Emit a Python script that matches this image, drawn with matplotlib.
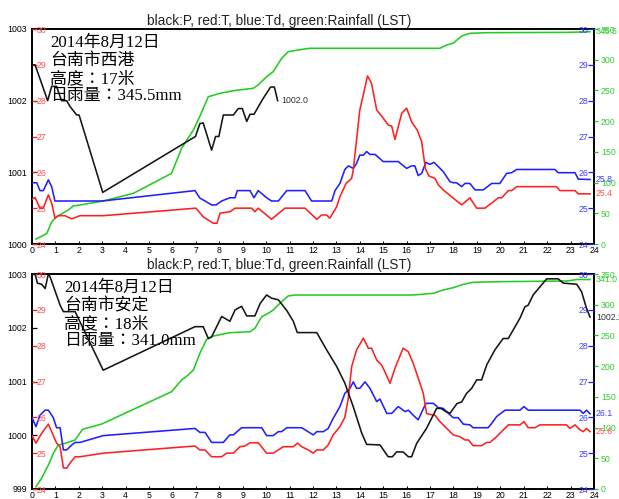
import matplotlib
matplotlib.use("Agg")
import matplotlib.pyplot as plt

plt.rcParams["font.family"] = ["Liberation Sans", "DejaVu Sans"]

# ---------------- 台南市西港 ----------------
h_p1 = [0.0, 0.13, 0.40, 0.67, 0.84, 1.05, 1.26, 1.48, 1.62, 1.91, 2.01, 3.02,
        6.98, 7.17, 7.31, 7.67, 7.84, 7.98, 8.17, 8.60, 8.81, 8.98, 9.17, 9.31,
        9.48, 9.85, 10.19, 10.35, 10.49]
p1 = [1002.50, 1002.50, 1002.25, 1002.00, 1002.20, 1002.20, 1002.00, 1002.00,
      1001.92, 1001.80, 1001.80, 1000.72, 1001.50, 1001.68, 1001.69, 1001.31,
      1001.50, 1001.50, 1001.80, 1001.80, 1001.89, 1001.89, 1001.71, 1001.81,
      1001.81, 1002.02, 1002.19, 1002.19, 1002.00]

h_t1 = [0.0, 0.13, 0.34, 0.48, 0.70, 0.84, 0.98, 1.12, 1.41, 1.70, 2.05, 3.04,
        7.00, 7.31, 7.74, 7.90, 8.03, 8.45, 8.67, 9.38, 9.52, 9.66, 10.23, 10.80,
        11.66, 12.16, 12.37, 12.58, 12.72, 13.01, 13.15, 13.41, 13.65, 13.72,
        14.00, 14.33, 14.50, 14.72, 15.00, 15.21, 15.36, 15.50, 15.79, 16.00,
        16.21, 16.45, 16.64, 16.80, 16.95, 17.21, 17.35, 17.56, 17.99, 18.35,
        18.70, 18.99, 19.34, 19.63, 19.91, 20.06, 20.34, 20.48, 20.70, 22.40,
        22.54, 23.19, 23.33, 23.83]
t1 = [25.25, 25.30, 25.00, 25.00, 25.37, 25.14, 24.72, 24.79, 24.79, 24.70,
      24.79, 24.79, 25.00, 24.76, 24.58, 24.58, 24.86, 24.90, 25.00, 25.00,
      24.90, 25.00, 24.69, 25.00, 25.00, 24.69, 24.81, 24.81, 24.72, 25.04,
      25.32, 25.69, 25.83, 26.07, 27.74, 28.69, 28.48, 27.74, 27.51, 27.32,
      27.29, 26.92, 27.65, 27.79, 27.41, 27.18, 26.86, 26.10, 25.90, 25.83,
      25.65, 25.51, 25.28, 25.09, 25.29, 25.00, 25.00, 25.14, 25.29, 25.29,
      25.49, 25.49, 25.60, 25.60, 25.49, 25.49, 25.40, 25.40]

h_td1 = [0.0, 0.20, 0.34, 0.48, 0.70, 0.84, 0.98, 3.00, 6.96, 7.17, 7.39, 7.67,
         7.86, 8.10, 8.45, 8.67, 8.77, 9.31, 9.48, 9.66, 10.02, 10.23, 10.52,
         10.88, 11.66, 11.94, 12.80, 12.94, 13.15, 13.36, 13.51, 13.72, 13.86,
         14.00, 14.15, 14.29, 14.43, 14.65, 15.00, 15.64, 16.00, 16.21, 16.35,
         16.49, 16.64, 16.82, 16.99, 17.16, 17.35, 17.56, 17.85, 17.99, 18.13,
         18.35, 18.49, 18.70, 18.92, 19.27, 19.63, 19.98, 20.27, 20.48, 20.70,
         22.33, 22.47, 23.19, 23.33, 23.83]
td1 = [25.71, 25.71, 25.49, 25.49, 25.79, 25.60, 25.20, 25.20, 25.49, 25.28,
       25.20, 25.09, 25.09, 25.20, 25.29, 25.29, 25.49, 25.49, 25.29, 25.49,
       25.29, 25.20, 25.20, 25.49, 25.49, 25.20, 25.20, 25.49, 25.69, 26.08,
       26.18, 26.11, 26.25, 26.48, 26.48, 26.58, 26.50, 26.50, 26.30, 26.30,
       26.11, 26.18, 26.18, 25.91, 25.97, 26.28, 26.22, 26.28, 26.16, 26.02,
       25.74, 25.71, 25.71, 25.60, 25.69, 25.69, 25.51, 25.51, 25.69, 25.69,
       25.97, 25.99, 26.08, 26.08, 25.99, 25.99, 25.81, 25.80]

h_r1 = [0.17, 0.63, 0.84, 1.05, 1.55, 1.76, 2.05, 3.04, 4.33, 5.96, 6.39, 6.89,
        7.17, 7.53, 8.03, 8.60, 9.45, 9.66, 10.02, 10.30, 10.66, 10.94, 11.44,
        11.87, 17.42, 17.71, 17.99, 18.35, 18.70, 19.42, 22.83, 23.83]
r1 = [8.0, 17.0, 36.0, 44.5, 55.4, 61.9, 63.5, 70.0, 82.5, 115.0, 155.8, 185.6,
      208.0, 239.8, 245.3, 249.6, 253.5, 258.9, 272.4, 280.5, 302.3, 313.1,
      316.3, 318.6, 318.6, 324.0, 326.8, 338.6, 343.0, 344.0, 344.5, 345.5]

# ---------------- 台南市安定 ----------------
h_p2 = [0.0, 0.13, 0.23, 0.41, 0.56, 0.70, 0.77, 1.20, 1.34, 1.84, 2.05, 3.04,
        6.96, 7.31, 7.53, 7.67, 8.10, 8.45, 8.67, 8.95, 9.17, 9.52, 9.74, 10.02,
        10.23, 10.52, 10.88, 11.16, 11.33, 12.16, 12.58, 13.01, 13.36, 13.72,
        14.08, 14.29, 14.86, 15.21, 15.39, 15.57, 15.85, 16.07, 16.21, 16.43,
        16.85, 17.28, 17.46, 17.68, 17.85, 18.15, 18.35, 18.56, 18.77, 18.99,
        19.20, 19.42, 19.77, 20.12, 20.34, 20.84, 21.05, 21.19, 21.40, 21.69,
        21.98, 22.47, 22.69, 23.26, 23.47, 23.68, 23.83]
p2 = [1003.00, 1003.00, 1002.83, 1002.81, 1002.73, 1003.00, 1002.95, 1002.42,
      1002.30, 1002.30, 1002.11, 1001.21, 1002.02, 1002.02, 1001.80, 1001.83,
      1002.21, 1002.12, 1002.33, 1002.40, 1002.22, 1002.22, 1002.45, 1002.61,
      1002.55, 1002.52, 1002.32, 1002.12, 1001.91, 1001.91, 1001.59, 1001.28,
      1000.97, 1000.53, 1000.04, 999.83, 999.82, 999.60, 999.60, 999.69,
      999.69, 999.60, 999.60, 999.85, 1000.13, 1000.50, 1000.50, 1000.44,
      1000.41, 1000.59, 1000.62, 1000.78, 1000.87, 1001.03, 1001.03, 1001.31,
      1001.59, 1001.80, 1001.80, 1002.18, 1002.39, 1002.42, 1002.61, 1002.76,
      1002.91, 1002.91, 1002.83, 1002.81, 1002.67, 1002.36, 1002.20]

h_t2 = [0.0, 0.17, 0.41, 0.70, 0.84, 1.05, 1.20, 1.34, 1.48, 1.62, 1.84, 2.05,
        3.04, 6.96, 7.17, 7.39, 7.67, 8.10, 8.31, 8.60, 8.88, 9.09, 9.31, 9.66,
        10.02, 10.30, 10.52, 10.73, 11.16, 11.34, 11.52, 11.80, 12.01, 12.16,
        12.44, 12.65, 12.86, 13.15, 13.36, 13.50, 13.65, 13.86, 14.15, 14.36,
        14.50, 14.72, 14.93, 15.07, 15.29, 15.50, 15.85, 16.07, 16.28, 16.71,
        16.85, 16.99, 17.21, 17.42, 17.71, 17.99, 18.27, 18.49, 18.63, 18.84,
        19.20, 19.42, 19.56, 19.84, 20.34, 20.84, 21.01, 21.19, 21.48, 21.69,
        22.83, 22.97, 23.19, 23.40, 23.54, 23.68, 23.83]
t2 = [25.49, 25.28, 25.55, 25.81, 25.60, 25.28, 25.18, 24.59, 24.58, 24.72,
      24.90, 24.90, 25.00, 25.20, 25.09, 25.09, 24.90, 24.90, 25.00, 25.00,
      25.18, 25.20, 25.29, 25.29, 25.00, 25.00, 25.09, 25.18, 25.18, 25.28,
      25.18, 25.09, 25.00, 25.09, 25.09, 25.23, 25.51, 25.74, 26.00, 26.50,
      27.41, 27.88, 28.21, 27.93, 27.93, 27.60, 27.46, 27.27, 26.95, 27.37,
      27.93, 27.83, 27.51, 26.67, 26.11, 26.08, 26.06, 25.88, 25.69, 25.51,
      25.46, 25.37, 25.37, 25.21, 25.21, 25.30, 25.30, 25.46, 25.79, 25.79,
      25.88, 25.71, 25.71, 25.79, 25.79, 25.69, 25.79, 25.65, 25.60, 25.69,
      25.60]

h_td2 = [0.0, 0.17, 0.34, 0.56, 0.70, 0.91, 1.05, 1.20, 1.34, 1.48, 1.70, 1.84,
         2.05, 3.04, 6.96, 7.17, 7.39, 7.67, 8.17, 8.45, 8.60, 8.95, 9.81, 10.02,
         10.30, 10.52, 10.66, 10.88, 11.52, 12.01, 12.16, 12.44, 12.65, 12.86,
         13.15, 13.36, 13.58, 13.72, 13.86, 14.00, 14.22, 14.43, 14.72, 14.86,
         15.15, 15.36, 15.64, 15.93, 16.07, 16.28, 16.49, 16.82, 17.14, 17.35,
         17.56, 17.78, 17.99, 18.20, 18.42, 18.70, 18.84, 19.48, 19.63, 19.84,
         20.20, 20.84, 21.01, 21.19, 23.40, 23.54, 23.68, 23.83]
td2 = [25.99, 25.74, 26.06, 26.20, 26.20, 25.99, 25.71, 25.71, 25.09, 25.09,
       25.23, 25.30, 25.30, 25.49, 25.69, 25.58, 25.58, 25.30, 25.30, 25.51,
       25.51, 25.71, 25.71, 25.49, 25.49, 25.60, 25.60, 25.71, 25.71, 25.51,
       25.60, 25.60, 25.69, 25.97, 26.30, 26.67, 26.81, 26.99, 26.81, 26.81,
       26.99, 26.81, 26.44, 26.51, 26.11, 26.11, 26.30, 26.16, 26.20, 26.06,
       25.93, 26.39, 26.39, 26.27, 26.25, 26.11, 25.99, 25.99, 25.81, 25.79,
       25.71, 25.71, 25.83, 26.02, 26.20, 26.20, 26.30, 26.20, 26.20, 26.11,
       26.20, 26.10]

h_r2 = [0.17, 0.41, 0.70, 0.91, 1.12, 1.41, 1.84, 2.16, 2.98, 5.96, 6.39, 6.67,
        6.89, 7.17, 7.46, 7.74, 8.45, 9.31, 9.52, 9.81, 10.09, 10.30, 10.66,
        10.94, 11.23, 16.28, 17.14, 17.56, 17.99, 18.42, 18.84, 19.98, 22.83,
        23.26, 23.83]
r2 = [3.7, 17.4, 39.0, 58.0, 71.6, 74.4, 79.8, 97.2, 105.8, 158.4, 177.5,
      185.6, 193.7, 220.9, 243.7, 249.0, 254.5, 256.0, 261.6, 280.5, 286.0,
      291.4, 304.9, 314.2, 315.8, 315.8, 318.6, 324.0, 327.7, 333.2, 336.5,
      337.5, 338.6, 341.0, 341.0]

hour_ticks = list(range(0, 25))
temp_ticks = [24, 25, 26, 27, 28, 29, 30]
rain_ticks = [0, 50, 100, 150, 200, 250, 300, 350]

TITLE = "black:P, red:T, blue:Td, green:Rainfall (LST)"
DATE = "2014年8月12日"

C_P = "#151515"
C_T = "#ff2020"
C_TD = "#2020ff"
C_R = "#22cc22"
C_TL = "#ff5050"
C_TDL = "#4040ff"
C_RL = "#33cc33"

W, H = 619, 499
PT = 0.72  # points per pixel at 100 dpi
fig = plt.figure(figsize=(W / 100, H / 100), dpi=100)

CJK = ["Liberation Serif", "Noto Sans CJK TC", "DejaVu Sans"]
LW = 1.15
TICK_FS = 6.3


def box(left, top, right, bottom):
    return [left / W, 1 - bottom / H, (right - left) / W, (bottom - top) / H]


def panel(top, bottom, hp, p, ht, t, htd, td, hr, r, plim, station, height, rain_text,
          text_x, p_label_inside):
    ax = fig.add_axes(box(32, top, 594, bottom))
    ax_r = ax.twinx()
    ax_td = ax.twinx()
    ax_t = ax.twinx()

    for a in (ax_r, ax_td, ax_t):
        a.set_xlim(0, 24)
        for s in a.spines.values():
            s.set_visible(False)
        a.patch.set_visible(False)

    ax.set_xlim(0, 24)
    ax.set_ylim(*plim)
    for s in ax.spines.values():
        s.set_linewidth(1.4)
        s.set_color("black")

    # pressure axis (left, black)
    ax.set_yticks(list(range(plim[0], plim[1] + 1)))
    ax.yaxis.tick_left()
    ax.tick_params(axis="y", direction="in", length=5 * PT, width=0.9,
                   pad=5 * PT, labelsize=TICK_FS, colors="black")
    ax.set_xticks(hour_ticks)
    ax.tick_params(axis="x", direction="in", length=3 * PT, width=0.7,
                   pad=1.2, labelsize=TICK_FS)

    # temperature axis (left, inside, red)
    ax_t.set_ylim(24, 30)
    ax_t.set_yticks(temp_ticks)
    ax_t.yaxis.tick_left()
    ax_t.tick_params(axis="y", direction="in", length=5 * PT, width=0.9,
                     pad=-5 * PT, labelsize=TICK_FS, color=C_T, labelcolor=C_TL)
    for lb in ax_t.get_yticklabels():
        lb.set_horizontalalignment("left")

    # dew point axis (right, inside, blue)
    ax_td.set_ylim(24, 30)
    ax_td.set_yticks(temp_ticks)
    ax_td.tick_params(axis="y", direction="in", length=6 * PT, width=0.9,
                      pad=-6 * PT, labelsize=TICK_FS, color=C_TD, labelcolor=C_TDL)
    for lb in ax_td.get_yticklabels():
        lb.set_horizontalalignment("right")

    # rainfall axis (right, outside, green)
    ax_r.set_ylim(0, 350)
    ax_r.set_yticks(rain_ticks)
    ax_r.tick_params(axis="y", direction="out", length=4 * PT, width=0.9,
                     pad=3 * PT, labelsize=TICK_FS, color=C_R, labelcolor=C_RL)

    ax_r.plot(hr, r, color=C_R, lw=LW, solid_joinstyle="round")
    ax_td.plot(htd, td, color=C_TD, lw=LW, solid_joinstyle="round")
    ax_t.plot(ht, t, color=C_T, lw=LW, solid_joinstyle="round")
    ax_p = ax_t.twinx()
    ax_p.set_ylim(*plim)
    ax_p.set_xlim(0, 24)
    ax_p.set_yticks([])
    for s in ax_p.spines.values():
        s.set_visible(False)
    ax_p.patch.set_visible(False)
    ax_p.plot(hp, p, color=C_P, lw=LW, solid_joinstyle="round")

    # end-of-series values
    lab = dict(fontsize=TICK_FS, va="center", ha="left", annotation_clip=False,
               textcoords="offset points")
    if p_label_inside:
        ax_p.annotate(f"{p[-1]:.1f}", (hp[-1], p[-1]), xytext=(4 * PT, 0),
                      color="#333333", **lab)
    else:
        ax_p.annotate(f"{p[-1]:.1f}", (24, p[-1]), xytext=(2 * PT, 0),
                      color="#333333", **lab)
    ax_t.annotate(f"{t[-1]:.1f}", (24, t[-1]), xytext=(2 * PT, 0), color=C_TL, **lab)
    ax_td.annotate(f"{td[-1]:.1f}", (24, td[-1]), xytext=(2 * PT, 0), color=C_TDL, **lab)
    ax_r.annotate(f"{r[-1]:.1f}", (24, r[-1]), xytext=(2 * PT, 0), color=C_RL, **lab)

    # title
    fig.text(279 / W, 1 - (top - 8.5) / H, TITLE, ha="center", va="center",
             fontsize=9.8, color="#222222")

    # station block
    lines = [DATE, station, f"高度：{height}米", f"日雨量：{rain_text}mm"]
    ys = [top + 13.7, top + 32, top + 50, top + 66.7]
    for line, y in zip(lines, ys):
        fig.text(text_x / W, 1 - y / H, line, ha="left", va="center",
                 fontsize=12.2, family=CJK, color="black")


panel(29, 244, h_p1, p1, h_t1, t1, h_td1, td1, h_r1, r1, (1000, 1003),
      "台南市西港", 17, "345.5", 50, True)
panel(274, 489, h_p2, p2, h_t2, t2, h_td2, td2, h_r2, r2, (999, 1003),
      "台南市安定", 18, "341.0", 64, False)

fig.savefig("out.png", dpi=100)
